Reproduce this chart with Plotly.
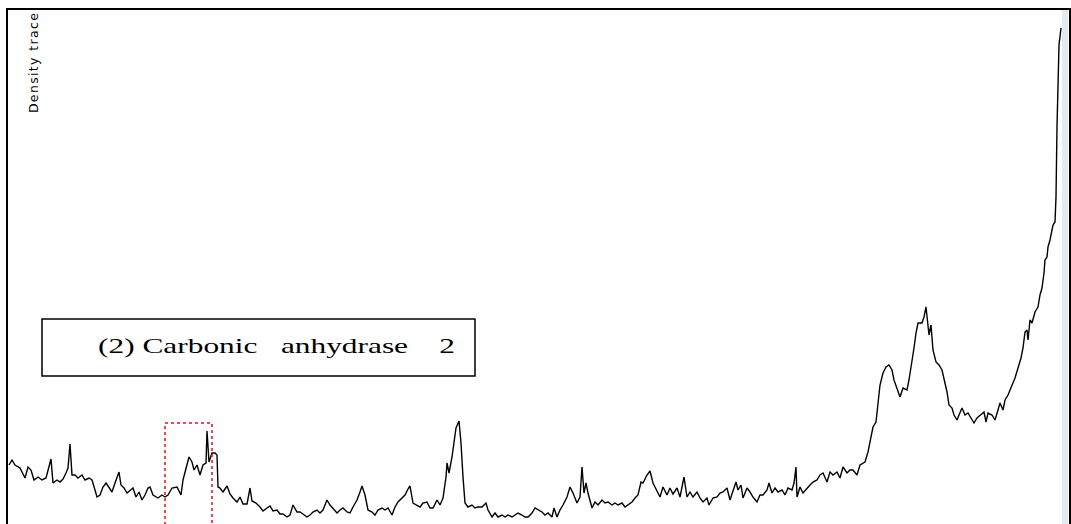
import plotly.graph_objects as go

# Lane position (pixels along the lane) and optical density of the scan
position = [
    1, 4, 7, 12, 17, 20, 23, 26, 30, 34, 38, 43, 45, 49, 52, 55, 58, 60, 62, 64,
    67, 70, 74, 77, 81, 84, 87, 89, 92, 95, 98, 101, 104, 107, 111, 113, 116, 119, 122, 125,
    128, 131, 134, 137, 140, 142, 145, 150, 154, 157, 160, 164, 169, 173, 175, 178, 181, 184, 186, 189,
    192, 195, 198, 199, 201, 204, 207, 209, 210, 212, 215, 219, 222, 225, 229, 232, 235, 239, 242, 244,
    248, 252, 255, 259, 262, 265, 269, 272, 275, 279, 282, 285, 289, 292, 295, 299, 302, 305, 309, 312,
    315, 319, 322, 325, 329, 332, 335, 339, 342, 345, 349, 352, 354, 357, 360, 364, 367, 370, 374, 377,
    380, 384, 387, 390, 394, 397, 400, 402, 405, 409, 412, 415, 419, 422, 425, 429, 432, 435, 438, 439,
    441, 444, 446, 448, 451, 453, 455, 457, 460, 464, 467, 470, 474, 478, 480, 484, 487, 490, 494, 497,
    500, 504, 507, 510, 514, 517, 520, 524, 527, 530, 534, 537, 540, 544, 546, 549, 552, 555, 559, 562,
    565, 569, 572, 574, 576, 578, 580, 584, 587, 590, 594, 597, 600, 604, 607, 610, 614, 617, 620, 624,
    627, 630, 633, 635, 639, 642, 645, 649, 652, 655, 659, 662, 665, 669, 672, 676, 679, 682, 685, 689,
    692, 695, 699, 701, 705, 709, 712, 715, 719, 722, 725, 728, 730, 733, 735, 739, 742, 745, 749, 752,
    755, 759, 761, 764, 767, 770, 774, 777, 780, 784, 786, 788, 789, 792, 795, 799, 802, 805, 809, 812,
    815, 819, 822, 825, 829, 832, 835, 839, 842, 845, 849, 852, 857, 860, 863, 865, 868, 870, 872, 875,
    878, 881, 884, 886, 889, 892, 895, 899, 901, 904, 906, 908, 910, 914, 916, 918, 920, 921, 923, 925,
    928, 931, 934, 936, 939, 941, 944, 946, 949, 951, 954, 957, 960, 963, 966, 969, 973, 976, 978, 980,
    984, 987, 990, 992, 995, 997, 1000, 1004, 1007, 1010, 1013, 1015, 1017, 1019, 1020, 1022, 1024, 1027, 1030, 1032,
    1034, 1036, 1037, 1039, 1040, 1042, 1044, 1045, 1047, 1048, 1049, 1050, 1051, 1053,
]
density = [
    59, 64, 59, 56, 46, 57, 54, 44, 47, 44, 46, 65, 41, 44, 42, 45, 51, 56, 80, 49,
    49, 46, 49, 44, 46, 44, 34, 27, 29, 37, 41, 36, 32, 41, 52, 39, 36, 31, 34, 36,
    27, 32, 24, 29, 36, 37, 29, 26, 29, 27, 29, 36, 37, 29, 44, 57, 67, 62, 54, 59,
    49, 59, 61, 93, 62, 71, 71, 69, 37, 36, 32, 38, 30, 26, 22, 27, 20, 20, 36, 23,
    21, 17, 13, 16, 18, 13, 14, 10, 10, 7, 9, 19, 12, 12, 10, 7, 9, 12, 14, 11,
    14, 24, 19, 16, 11, 14, 16, 12, 11, 17, 24, 32, 38, 29, 14, 12, 9, 14, 16, 14,
    16, 9, 17, 22, 26, 29, 35, 38, 21, 19, 17, 21, 22, 16, 16, 24, 19, 26, 47, 61,
    51, 67, 84, 96, 103, 81, 47, 21, 17, 19, 16, 17, 17, 21, 14, 7, 11, 7, 9, 7,
    9, 7, 9, 11, 9, 7, 7, 11, 16, 14, 12, 9, 11, 7, 16, 7, 14, 19, 27, 37,
    31, 21, 27, 57, 31, 41, 31, 16, 22, 19, 24, 21, 22, 19, 21, 19, 21, 17, 19, 22,
    26, 29, 42, 41, 49, 53, 41, 32, 27, 37, 29, 36, 30, 36, 27, 47, 27, 32, 27, 32,
    26, 22, 26, 19, 26, 27, 31, 32, 36, 24, 34, 42, 34, 39, 26, 36, 32, 27, 22, 29,
    29, 34, 41, 31, 36, 32, 34, 29, 36, 34, 41, 57, 27, 37, 31, 36, 39, 42, 44, 49,
    51, 42, 52, 49, 52, 46, 57, 51, 54, 54, 49, 59, 62, 72, 87, 97, 102, 124, 139, 151,
    157, 159, 154, 144, 136, 127, 136, 134, 144, 161, 176, 191, 201, 201, 207, 217, 201, 189, 199, 174,
    162, 159, 154, 146, 132, 119, 116, 109, 104, 109, 116, 109, 111, 106, 101, 106, 109, 112, 102, 111,
    109, 104, 114, 121, 114, 124, 129, 139, 146, 156, 166, 176, 192, 194, 184, 204, 201, 212, 217, 229,
    236, 251, 264, 267, 277, 284, 296, 299, 302, 327, 397, 462, 479, 496,
]

W, H = 1071, 524
LEFT, TOP, RIGHT = 8, 10, 2
X_MAX = W - LEFT - RIGHT      # lane length shown
Y_MAX = H - TOP               # density scale height

fig = go.Figure()
fig.add_trace(go.Scatter(
    x=position, y=density, mode="lines",
    line=dict(color="#000000", width=1.4),
    hoverinfo="skip", showlegend=False,
))

shapes = [
    # pale strip along the right edge of the scan window
    dict(type="rect", xref="x", yref="paper", x0=X_MAX - 7, x1=X_MAX - 1, y0=0, y1=1,
         fillcolor="#e7e9f1", line=dict(width=0), layer="below"),
    # label box
    dict(type="rect", xref="x", yref="y", x0=34, x1=467, y0=148, y1=205,
         line=dict(color="#000000", width=1.5), fillcolor="rgba(0,0,0,0)"),
    # selected band
    dict(type="rect", xref="x", yref="y", x0=157, x1=204, y0=-6, y1=101,
         line=dict(color="#e01010", width=1.5, dash="dot"), fillcolor="rgba(0,0,0,0)"),
]

nb = "\u00a0"
label = f"(2) Carbonic{nb * 3}anhydrase{nb * 4}2"

annotations = [
    dict(text="Density trace", x=25, y=461, xref="x", yref="y", textangle=-90,
         showarrow=False, font=dict(family="DejaVu Sans", size=12.5, color="#000000"),
         xanchor="center", yanchor="middle"),
    dict(text=label, x=268, y=178, xref="x", yref="y", showarrow=False,
         font=dict(family="Liberation Serif", size=21, color="#000000"),
         xanchor="center", yanchor="middle"),
]

fig.update_layout(
    width=W, height=H,
    margin=dict(l=LEFT, r=RIGHT, t=TOP, b=0, pad=0),
    paper_bgcolor="#ffffff", plot_bgcolor="#ffffff",
    shapes=shapes, annotations=annotations,
    xaxis=dict(range=[0, X_MAX], side="top", showline=True, linecolor="#000000", linewidth=2,
               showgrid=False, zeroline=False, showticklabels=False, ticks=""),
    yaxis=dict(range=[0, Y_MAX], showline=True, mirror=True, linecolor="#000000", linewidth=2,
               showgrid=False, zeroline=False, showticklabels=False, ticks=""),
)

# The label uses a wide, stretched serif face and the axis caption is letter-spaced;
# SVG textLength reproduces those run widths on the rendered text.
stretch_text = """
document.querySelectorAll('text.annotation-text').forEach(function (t) {
  var s = t.textContent;
  if (s.indexOf('Carbonic') >= 0) {
    t.setAttribute('textLength', '357');
    t.setAttribute('lengthAdjust', 'spacingAndGlyphs');
  } else if (s.indexOf('Density') >= 0) {
    t.setAttribute('textLength', '100');
    t.setAttribute('lengthAdjust', 'spacing');
  }
});
"""

fig.write_html("out.html", post_script=stretch_text)
